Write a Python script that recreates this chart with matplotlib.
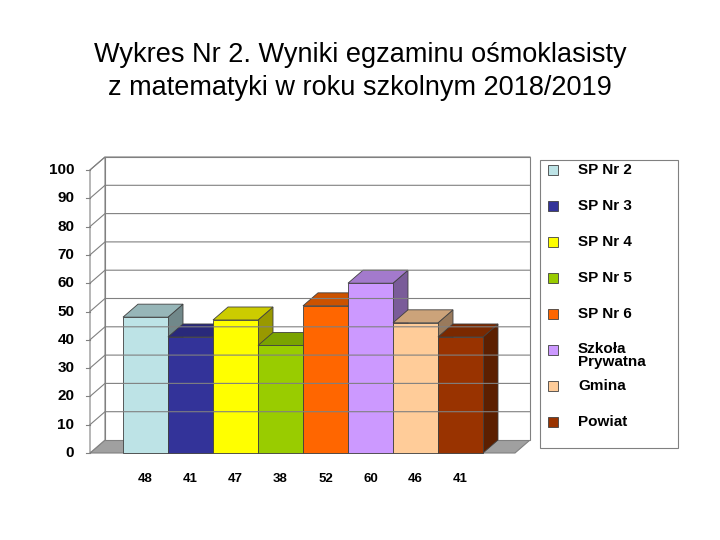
import matplotlib
matplotlib.use("Agg")
import matplotlib.pyplot as plt
from matplotlib.patches import Polygon, Rectangle
import matplotlib.colors as mc

labels = ["SP Nr 2", "SP Nr 3", "SP Nr 4", "SP Nr 5", "SP Nr 6", "Szkoła\nPrywatna", "Gmina", "Powiat"]
values = [48, 41, 47, 38, 52, 60, 46, 41]
colors = ["#BDE3E6", "#333399", "#FFFF00", "#99CC00", "#FF6600", "#CC99FF", "#FFCC99", "#993300"]
yticks = [0, 10, 20, 30, 40, 50, 60, 70, 80, 90, 100]

plt.rcParams['font.family'] = ['Liberation Sans', 'DejaVu Sans']
fig = plt.figure(figsize=(7.2, 5.4), dpi=100)
W, H = 720, 540
ax = fig.add_axes([90/W, 1-453/H, 440/W, 283/H])
xr = 440/45
ax.set_xlim(0, xr); ax.set_ylim(0, 100)
ax.axis('off')
dx, dy = 15/45, 13/2.83

def shade(c, f):
    r, g, b = mc.to_rgb(c)
    return (r*f, g*f, b*f)

kw = dict(clip_on=False)
ax.add_patch(Polygon([(0, 0), (xr-dx, 0), (xr, dy), (dx, dy)], closed=True, fc="#A0A0A0", ec="#808080", lw=0.8, **kw))
ax.add_patch(Polygon([(dx, dy), (xr, dy), (xr, 100+dy), (dx, 100+dy)], closed=True, fc="white", ec="#808080", lw=0.8, **kw))
ax.add_patch(Polygon([(0, 0), (dx, dy), (dx, 100+dy), (0, 100)], closed=True, fc="white", ec="#808080", lw=0.8, **kw))
for v in yticks[1:]:
    ax.plot([0, dx, xr], [v, v+dy, v+dy], color="#808080", lw=0.8, **kw)
    ax.plot([-0.1, 0], [v, v], color="#808080", lw=0.8, **kw)
ax.plot([-0.1, 0], [0, 0], color="#808080", lw=0.8, **kw)
for v in yticks:
    ax.text(-0.35, v, str(v), ha='right', va='center', fontsize=11, fontweight='bold', **kw)

x0 = (123-90)/45
bw = 1.0
for i, (v, c) in enumerate(zip(values, colors)):
    x = x0 + i*bw
    ax.add_patch(Polygon([(x+bw, 0), (x+bw+dx, dy), (x+bw+dx, v+dy), (x+bw, v)], closed=True, fc=shade(c, 0.6), ec="#404040", lw=0.6, **kw))
    ax.add_patch(Polygon([(x, v), (x+dx, v+dy), (x+bw+dx, v+dy), (x+bw, v)], closed=True, fc=shade(c, 0.8), ec="#404040", lw=0.6, **kw))
    ax.add_patch(Rectangle((x, 0), bw, v, fc=c, ec="#404040", lw=0.6, **kw))
    ax.text(x+bw/2, -9.3, str(v), ha='center', va='center', fontsize=9.5, fontweight='bold', **kw)

fig.text(0.5, 1-55/H, "Wykres Nr 2. Wyniki egzaminu ośmoklasisty", ha='center', va='center', fontsize=19.5)
fig.text(0.5, 1-88/H, "z matematyki w roku szkolnym 2018/2019", ha='center', va='center', fontsize=19.5)

fig.patches.append(Rectangle((540/W, 1-448/H), 138/W, 288/H, transform=fig.transFigure, fc="white", ec="#808080", lw=0.8))
ys = [170, 206, 242, 278, 314, 350, 386, 422]
for y, lab, c in zip(ys, labels, colors):
    fig.patches.append(Rectangle((548/W, 1-(y+5)/H), 10/W, 10/H, transform=fig.transFigure, fc=c, ec="#404040", lw=0.6))
    fig.text(578/W, 1-y/H, lab, ha='left', va='top' if '\n' in lab else 'center', fontsize=11, fontweight='bold', linespacing=0.95)
fig.texts[-3].set_position((578/W, 1-342/H))
fig.savefig("out.png", dpi=100)
